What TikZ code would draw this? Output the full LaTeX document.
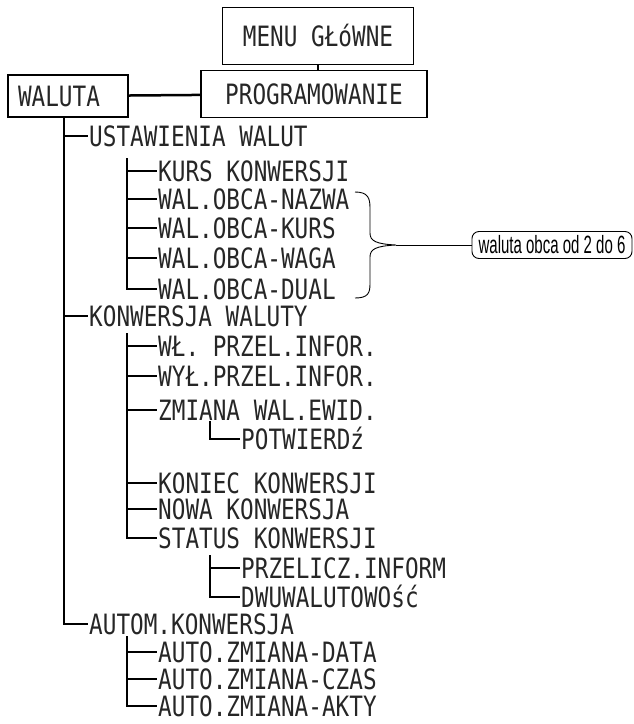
\documentclass[tikz,border=0pt]{standalone}
\usepackage{fontspec}
\newfontfamily\lcdfont[FakeStretch=0.81]{DejaVu Sans Mono}
\newfontfamily\notefont[FakeStretch=0.6]{Liberation Sans}

\begin{document}
\begin{tikzpicture}[x=1pt,y=-1pt,
  lcd/.style={font=\lcdfont\fontsize{28}{28}\selectfont,text=black!85,inner xsep=1pt,inner ysep=0pt,text height=20pt,text depth=0pt},
  item/.style={lcd,anchor=west},
  menubox/.style={lcd,draw,line width=1.6pt,inner xsep=10pt},
  tree/.style={line width=2.5pt},
  thin/.style={line width=0.9pt}]
\useasboundingbox (0,0) rectangle (633,724);

% menu boxes
\node[menubox,minimum width=191pt,minimum height=57pt] (menu) at (318,36) {MENU GŁóWNE};
\node[menubox,minimum width=226pt,minimum height=47pt] (prog) at (314,94) {PROGRAMOWANIE};
\node[menubox,minimum height=42pt,text width=100pt,align=left] (walut) at (68,96) {WALUTA};

\draw[tree] (menu.south) -- (menu.south |- prog.north);
\draw[tree] (walut) -- (prog);

% first level
\node[item] (ust) at (88,136) {USTAWIENIA WALUT};
\node[item] (konw) at (88,316) {KONWERSJA WALUTY};
\node[item] (autom) at (88,624) {AUTOM.KONWERSJA};

% second level
\node[item] (kurs) at (157,171) {KURS KONWERSJI};
\node[item] (nazwa) at (157,199) {WAL.OBCA-NAZWA};
\node[item] (okurs) at (157,228) {WAL.OBCA-KURS};
\node[item] (waga) at (157,258) {WAL.OBCA-WAGA};
\node[item] (dual) at (157,289) {WAL.OBCA-DUAL};

\node[item] (wl) at (157,346) {WŁ. PRZEL.INFOR.};
\node[item] (wyl) at (157,376) {WYŁ.PRZEL.INFOR.};
\node[item] (zmiana) at (157,410) {ZMIANA WAL.EWID.};
\node[item] (koniec) at (157,483) {KONIEC KONWERSJI};
\node[item] (nowa) at (157,509) {NOWA KONWERSJA};
\node[item] (status) at (157,538) {STATUS KONWERSJI};

\node[item] (adata) at (157,652) {AUTO.ZMIANA-DATA};
\node[item] (aczas) at (157,679) {AUTO.ZMIANA-CZAS};
\node[item] (aakty) at (157,706) {AUTO.ZMIANA-AKTY};

% third level
\node[item] (potw) at (240,439) {POTWIERDź};
\node[item] (przel) at (240,568) {PRZELICZ.INFORM};
\node[item] (dwu) at (240,597) {DWUWALUTOWOść};

% tree lines
\coordinate (t0) at ([xshift=-4pt]walut.south);
\coordinate (s1) at (127,158);
\coordinate (s2) at (127,333);
\coordinate (s3) at (127,636);
\coordinate (p1) at (210,421);
\coordinate (p2) at (210,555);

\draw[tree] (t0) |- (ust.west);
\draw[tree] (t0) |- (konw.west);
\draw[tree] (t0) |- (autom.west);

\draw[tree] (s1) |- (kurs.west);
\draw[tree] (s1) |- (nazwa.west);
\draw[tree] (s1) |- (okurs.west);
\draw[tree] (s1) |- (waga.west);
\draw[tree] (s1) |- (dual.west);

\draw[tree] (s2) |- (wl.west);
\draw[tree] (s2) |- (wyl.west);
\draw[tree] (s2) |- (zmiana.west);
\draw[tree] (s2) |- (koniec.west);
\draw[tree] (s2) |- (nowa.west);
\draw[tree] (s2) |- (status.west);

\draw[tree] (s3) |- (adata.west);
\draw[tree] (s3) |- (aczas.west);
\draw[tree] (s3) |- (aakty.west);

\draw[tree] (p1) |- (potw.west);
\draw[tree] (p2) |- (przel.west);
\draw[tree] (p2) |- (dwu.west);

% brace with note
\node[draw,thin,rounded corners=7pt,minimum width=160pt,minimum height=27pt,inner sep=0pt,
  font=\notefont\fontsize{25}{25}\selectfont] (note) at (552,245) {waluta obca od 2 do 6};
\coordinate (bt) at (396,245);
\draw[thin] (355,192) .. controls (368,192) and (370,198) .. (370,208) -- (370,233)
  .. controls (370,241) and (376,244) .. (bt)
  .. controls (376,246) and (370,249) .. (370,257) -- (370,284)
  .. controls (370,293) and (368,298) .. (355,298);
\draw[thin] (bt) -- (note.west);
\end{tikzpicture}
\end{document}
